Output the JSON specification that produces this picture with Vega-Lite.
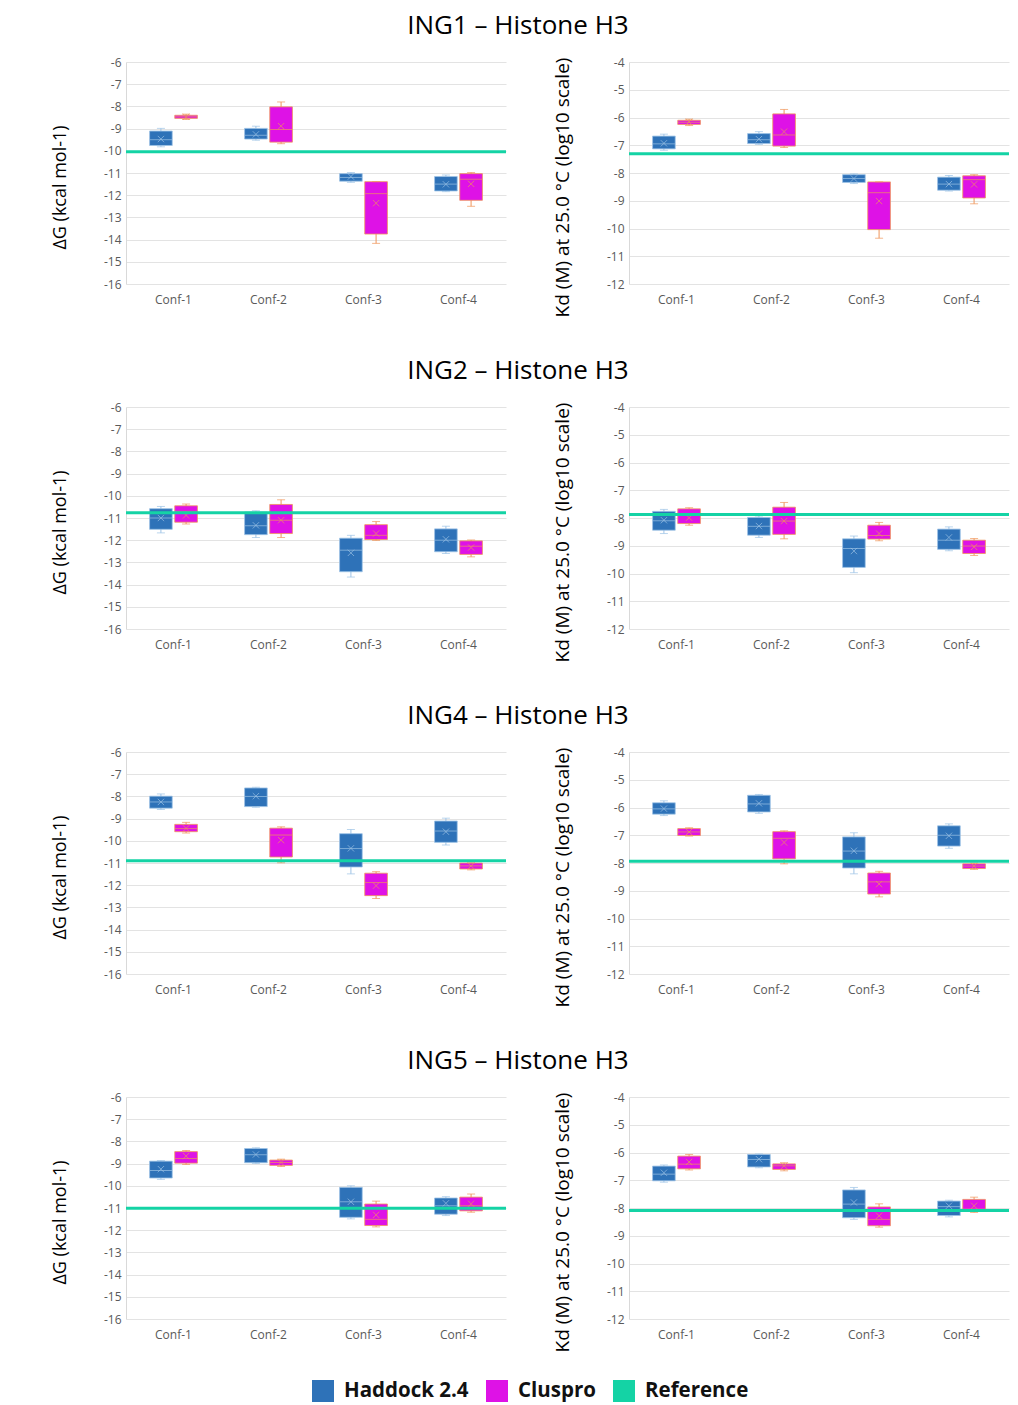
{
  "$schema": "https://vega.github.io/schema/vega-lite/v6.json",
  "padding": {"left": 51, "top": 13, "right": 5, "bottom": 5},
  "data": {"values": [
    {"ing":"ING1","m":"dG","conf":"Conf-1","method":"Haddock 2.4","hi":-8.99,"q3":-9.11,"med":-9.5,"q1":-9.76,"lo":-9.82,"mean":-9.47},
    {"ing":"ING1","m":"dG","conf":"Conf-1","method":"Cluspro","hi":-8.35,"q3":-8.40,"med":-8.47,"q1":-8.54,"lo":-8.59,"mean":-8.47},
    {"ing":"ING1","m":"dG","conf":"Conf-2","method":"Haddock 2.4","hi":-8.89,"q3":-8.99,"med":-9.3,"q1":-9.47,"lo":-9.52,"mean":-9.26},
    {"ing":"ING1","m":"dG","conf":"Conf-2","method":"Cluspro","hi":-7.80,"q3":-8.02,"med":-9.04,"q1":-9.61,"lo":-9.68,"mean":-8.89},
    {"ing":"ING1","m":"dG","conf":"Conf-3","method":"Haddock 2.4","hi":-10.98,"q3":-11.03,"med":-11.2,"q1":-11.37,"lo":-11.42,"mean":-11.16},
    {"ing":"ING1","m":"dG","conf":"Conf-3","method":"Cluspro","hi":-11.39,"q3":-11.39,"med":-11.93,"q1":-13.75,"lo":-14.17,"mean":-12.36},
    {"ing":"ING1","m":"dG","conf":"Conf-4","method":"Haddock 2.4","hi":-11.09,"q3":-11.16,"med":-11.5,"q1":-11.81,"lo":-11.84,"mean":-11.51},
    {"ing":"ING1","m":"dG","conf":"Conf-4","method":"Cluspro","hi":-10.98,"q3":-11.03,"med":-11.28,"q1":-12.23,"lo":-12.50,"mean":-11.49},
    {"ing":"ING1","m":"dG","method":"Reference","ref":-10.04},
    {"ing":"ING1","m":"Kd","conf":"Conf-1","method":"Haddock 2.4","hi":-6.60,"q3":-6.67,"med":-6.95,"q1":-7.13,"lo":-7.18,"mean":-6.93},
    {"ing":"ING1","m":"Kd","conf":"Conf-1","method":"Cluspro","hi":-6.06,"q3":-6.10,"med":-6.17,"q1":-6.25,"lo":-6.29,"mean":-6.16},
    {"ing":"ING1","m":"Kd","conf":"Conf-2","method":"Haddock 2.4","hi":-6.51,"q3":-6.58,"med":-6.8,"q1":-6.94,"lo":-6.97,"mean":-6.78},
    {"ing":"ING1","m":"Kd","conf":"Conf-2","method":"Cluspro","hi":-5.71,"q3":-5.87,"med":-6.63,"q1":-7.03,"lo":-7.08,"mean":-6.51},
    {"ing":"ING1","m":"Kd","conf":"Conf-3","method":"Haddock 2.4","hi":-8.03,"q3":-8.06,"med":-8.2,"q1":-8.34,"lo":-8.38,"mean":-8.2},
    {"ing":"ING1","m":"Kd","conf":"Conf-3","method":"Cluspro","hi":-8.32,"q3":-8.32,"med":-8.71,"q1":-10.04,"lo":-10.35,"mean":-9.01},
    {"ing":"ING1","m":"Kd","conf":"Conf-4","method":"Haddock 2.4","hi":-8.09,"q3":-8.15,"med":-8.4,"q1":-8.62,"lo":-8.65,"mean":-8.40},
    {"ing":"ING1","m":"Kd","conf":"Conf-4","method":"Cluspro","hi":-8.06,"q3":-8.10,"med":-8.24,"q1":-8.90,"lo":-9.11,"mean":-8.41},
    {"ing":"ING1","m":"Kd","method":"Reference","ref":-7.31},
    {"ing":"ING2","m":"dG","conf":"Conf-1","method":"Haddock 2.4","hi":-10.48,"q3":-10.58,"med":-11.0,"q1":-11.51,"lo":-11.67,"mean":-11.0},
    {"ing":"ING2","m":"dG","conf":"Conf-1","method":"Cluspro","hi":-10.37,"q3":-10.45,"med":-10.70,"q1":-11.19,"lo":-11.27,"mean":-10.88},
    {"ing":"ING2","m":"dG","conf":"Conf-2","method":"Haddock 2.4","hi":-10.67,"q3":-10.73,"med":-11.35,"q1":-11.75,"lo":-11.88,"mean":-11.33},
    {"ing":"ING2","m":"dG","conf":"Conf-2","method":"Cluspro","hi":-10.18,"q3":-10.39,"med":-11.10,"q1":-11.70,"lo":-11.88,"mean":-11.1},
    {"ing":"ING2","m":"dG","conf":"Conf-3","method":"Haddock 2.4","hi":-11.78,"q3":-11.91,"med":-12.45,"q1":-13.42,"lo":-13.66,"mean":-12.57},
    {"ing":"ING2","m":"dG","conf":"Conf-3","method":"Cluspro","hi":-11.16,"q3":-11.30,"med":-11.78,"q1":-11.97,"lo":-12.01,"mean":-11.70},
    {"ing":"ING2","m":"dG","conf":"Conf-4","method":"Haddock 2.4","hi":-11.37,"q3":-11.49,"med":-12.0,"q1":-12.52,"lo":-12.60,"mean":-11.96},
    {"ing":"ING2","m":"dG","conf":"Conf-4","method":"Cluspro","hi":-11.99,"q3":-12.03,"med":-12.27,"q1":-12.64,"lo":-12.75,"mean":-12.33},
    {"ing":"ING2","m":"dG","method":"Reference","ref":-10.76},
    {"ing":"ING2","m":"Kd","conf":"Conf-1","method":"Haddock 2.4","hi":-7.69,"q3":-7.76,"med":-8.1,"q1":-8.44,"lo":-8.56,"mean":-8.08},
    {"ing":"ING2","m":"Kd","conf":"Conf-1","method":"Cluspro","hi":-7.63,"q3":-7.67,"med":-7.84,"q1":-8.20,"lo":-8.26,"mean":-7.99},
    {"ing":"ING2","m":"Kd","conf":"Conf-2","method":"Haddock 2.4","hi":-7.93,"q3":-7.98,"med":-8.3,"q1":-8.62,"lo":-8.70,"mean":-8.29},
    {"ing":"ING2","m":"Kd","conf":"Conf-2","method":"Cluspro","hi":-7.44,"q3":-7.61,"med":-8.11,"q1":-8.59,"lo":-8.75,"mean":-8.11},
    {"ing":"ING2","m":"Kd","conf":"Conf-3","method":"Haddock 2.4","hi":-8.65,"q3":-8.75,"med":-9.1,"q1":-9.78,"lo":-9.97,"mean":-9.19},
    {"ing":"ING2","m":"Kd","conf":"Conf-3","method":"Cluspro","hi":-8.16,"q3":-8.26,"med":-8.63,"q1":-8.76,"lo":-8.82,"mean":-8.56},
    {"ing":"ING2","m":"Kd","conf":"Conf-4","method":"Haddock 2.4","hi":-8.32,"q3":-8.40,"med":-8.8,"q1":-9.13,"lo":-9.18,"mean":-8.70},
    {"ing":"ING2","m":"Kd","conf":"Conf-4","method":"Cluspro","hi":-8.74,"q3":-8.80,"med":-9.01,"q1":-9.28,"lo":-9.35,"mean":-9.04},
    {"ing":"ING2","m":"Kd","method":"Reference","ref":-7.87},
    {"ing":"ING4","m":"dG","conf":"Conf-1","method":"Haddock 2.4","hi":-7.89,"q3":-7.99,"med":-8.25,"q1":-8.53,"lo":-8.59,"mean":-8.25},
    {"ing":"ING4","m":"dG","conf":"Conf-1","method":"Cluspro","hi":-9.17,"q3":-9.26,"med":-9.45,"q1":-9.59,"lo":-9.65,"mean":-9.44},
    {"ing":"ING4","m":"dG","conf":"Conf-2","method":"Haddock 2.4","hi":-7.59,"q3":-7.62,"med":-8.0,"q1":-8.46,"lo":-8.49,"mean":-7.99},
    {"ing":"ING4","m":"dG","conf":"Conf-2","method":"Cluspro","hi":-9.37,"q3":-9.43,"med":-9.74,"q1":-10.73,"lo":-10.99,"mean":-9.97},
    {"ing":"ING4","m":"dG","conf":"Conf-3","method":"Haddock 2.4","hi":-9.49,"q3":-9.68,"med":-10.35,"q1":-11.18,"lo":-11.49,"mean":-10.34},
    {"ing":"ING4","m":"dG","conf":"Conf-3","method":"Cluspro","hi":-11.39,"q3":-11.46,"med":-11.88,"q1":-12.47,"lo":-12.60,"mean":-12.02},
    {"ing":"ING4","m":"dG","conf":"Conf-4","method":"Haddock 2.4","hi":-8.98,"q3":-9.11,"med":-9.56,"q1":-10.07,"lo":-10.19,"mean":-9.59},
    {"ing":"ING4","m":"dG","conf":"Conf-4","method":"Cluspro","hi":-10.99,"q3":-11.0,"med":-11.13,"q1":-11.27,"lo":-11.31,"mean":-11.13},
    {"ing":"ING4","m":"dG","method":"Reference","ref":-10.90},
    {"ing":"ING4","m":"Kd","conf":"Conf-1","method":"Haddock 2.4","hi":-5.76,"q3":-5.83,"med":-6.05,"q1":-6.24,"lo":-6.29,"mean":-6.04},
    {"ing":"ING4","m":"Kd","conf":"Conf-1","method":"Cluspro","hi":-6.73,"q3":-6.76,"med":-6.88,"q1":-7.01,"lo":-7.03,"mean":-6.88},
    {"ing":"ING4","m":"Kd","conf":"Conf-2","method":"Haddock 2.4","hi":-5.53,"q3":-5.56,"med":-5.87,"q1":-6.16,"lo":-6.21,"mean":-5.85},
    {"ing":"ING4","m":"Kd","conf":"Conf-2","method":"Cluspro","hi":-6.84,"q3":-6.87,"med":-7.11,"q1":-7.85,"lo":-8.03,"mean":-7.26},
    {"ing":"ING4","m":"Kd","conf":"Conf-3","method":"Haddock 2.4","hi":-6.91,"q3":-7.06,"med":-7.57,"q1":-8.18,"lo":-8.39,"mean":-7.56},
    {"ing":"ING4","m":"Kd","conf":"Conf-3","method":"Cluspro","hi":-8.30,"q3":-8.36,"med":-8.68,"q1":-9.12,"lo":-9.22,"mean":-8.76},
    {"ing":"ING4","m":"Kd","conf":"Conf-4","method":"Haddock 2.4","hi":-6.59,"q3":-6.66,"med":-7.0,"q1":-7.39,"lo":-7.47,"mean":-7.02},
    {"ing":"ING4","m":"Kd","conf":"Conf-4","method":"Cluspro","hi":-8.00,"q3":-8.03,"med":-8.11,"q1":-8.20,"lo":-8.23,"mean":-8.11},
    {"ing":"ING4","m":"Kd","method":"Reference","ref":-7.94},
    {"ing":"ING5","m":"dG","conf":"Conf-1","method":"Haddock 2.4","hi":-8.86,"q3":-8.89,"med":-9.31,"q1":-9.65,"lo":-9.71,"mean":-9.25},
    {"ing":"ING5","m":"dG","conf":"Conf-1","method":"Cluspro","hi":-8.41,"q3":-8.46,"med":-8.77,"q1":-8.98,"lo":-9.04,"mean":-8.66},
    {"ing":"ING5","m":"dG","conf":"Conf-2","method":"Haddock 2.4","hi":-8.29,"q3":-8.32,"med":-8.6,"q1":-8.96,"lo":-8.99,"mean":-8.59},
    {"ing":"ING5","m":"dG","conf":"Conf-2","method":"Cluspro","hi":-8.80,"q3":-8.84,"med":-8.95,"q1":-9.08,"lo":-9.13,"mean":-8.95},
    {"ing":"ING5","m":"dG","conf":"Conf-3","method":"Haddock 2.4","hi":-10.0,"q3":-10.07,"med":-10.72,"q1":-11.42,"lo":-11.49,"mean":-10.72},
    {"ing":"ING5","m":"dG","conf":"Conf-3","method":"Cluspro","hi":-10.69,"q3":-10.82,"med":-11.51,"q1":-11.79,"lo":-11.85,"mean":-11.31},
    {"ing":"ING5","m":"dG","conf":"Conf-4","method":"Haddock 2.4","hi":-10.49,"q3":-10.55,"med":-10.9,"q1":-11.28,"lo":-11.34,"mean":-10.79},
    {"ing":"ING5","m":"dG","conf":"Conf-4","method":"Cluspro","hi":-10.37,"q3":-10.51,"med":-10.9,"q1":-11.13,"lo":-11.19,"mean":-10.81},
    {"ing":"ING5","m":"dG","method":"Reference","ref":-11.01},
    {"ing":"ING5","m":"Kd","conf":"Conf-1","method":"Haddock 2.4","hi":-6.45,"q3":-6.49,"med":-6.78,"q1":-7.02,"lo":-7.07,"mean":-6.73},
    {"ing":"ING5","m":"Kd","conf":"Conf-1","method":"Cluspro","hi":-6.07,"q3":-6.13,"med":-6.42,"q1":-6.59,"lo":-6.63,"mean":-6.34},
    {"ing":"ING5","m":"Kd","conf":"Conf-2","method":"Haddock 2.4","hi":-6.05,"q3":-6.07,"med":-6.25,"q1":-6.52,"lo":-6.55,"mean":-6.24},
    {"ing":"ING5","m":"Kd","conf":"Conf-2","method":"Cluspro","hi":-6.37,"q3":-6.41,"med":-6.48,"q1":-6.61,"lo":-6.66,"mean":-6.48},
    {"ing":"ING5","m":"Kd","conf":"Conf-3","method":"Haddock 2.4","hi":-7.26,"q3":-7.35,"med":-7.86,"q1":-8.35,"lo":-8.41,"mean":-7.80},
    {"ing":"ING5","m":"Kd","conf":"Conf-3","method":"Cluspro","hi":-7.85,"q3":-7.96,"med":-8.41,"q1":-8.64,"lo":-8.69,"mean":-8.28},
    {"ing":"ING5","m":"Kd","conf":"Conf-4","method":"Haddock 2.4","hi":-7.72,"q3":-7.75,"med":-7.95,"q1":-8.27,"lo":-8.32,"mean":-7.92},
    {"ing":"ING5","m":"Kd","conf":"Conf-4","method":"Cluspro","hi":-7.61,"q3":-7.69,"med":-8.04,"q1":-8.12,"lo":-8.16,"mean":-7.92},
    {"ing":"ING5","m":"Kd","method":"Reference","ref":-8.09}
  ]},
  "spacing": 41,
  "vconcat": [
    {"title": {"text": "ING1 – Histone H3"}, "spacing": 45, "hconcat": [
      {"width": 380, "height": 222, "transform": [{"filter": "datum.ing === 'ING1' && datum.m === 'dG'"}], "layer": [
        {"transform": [{"filter": "datum.method !== 'Reference'"}],
         "encoding": {"x": {"field": "conf", "type": "nominal", "title": null, "scale": {"domain": ["Conf-1","Conf-2","Conf-3","Conf-4"], "paddingInner": 0.47, "paddingOuter": 0.235}},
                      "xOffset": {"field": "method", "type": "nominal", "scale": {"domain": ["Haddock 2.4","Cluspro"], "paddingInner": 0.1, "paddingOuter": 0.05}}},
         "layer": [
          {"mark": {"type": "rule", "strokeWidth": 1}, "encoding": {"y": {"field": "lo", "type": "quantitative", "title": "ΔG (kcal mol-1)", "scale": {"domain": [-16, -6], "nice": false, "zero": false}, "axis": {"values": [-16,-15,-14,-13,-12,-11,-10,-9,-8,-7,-6], "titleFontSize": 18}}, "y2": {"field": "hi"}, "stroke": {"field": "method", "type": "nominal", "scale": {"domain": ["Haddock 2.4","Cluspro"], "range": ["#9DC3E6","#F0955A"]}, "legend": null}}},
          {"mark": {"type": "bar", "strokeWidth": 0.8}, "encoding": {"y": {"field": "q1", "type": "quantitative"}, "y2": {"field": "q3"}, "color": {"field": "method", "type": "nominal", "scale": {"domain": ["Haddock 2.4","Cluspro","Reference"], "range": ["#2E72B8","#DE12E6","#14D3A5"]}, "legend": {"orient": "none", "legendX": 186, "legendY": 1318, "direction": "horizontal", "title": null}}, "stroke": {"field": "method", "type": "nominal", "legend": null}}},
          {"mark": {"type": "tick", "size": 8, "thickness": 1}, "encoding": {"y": {"field": "lo", "type": "quantitative"}, "fill": {"field": "method", "type": "nominal", "scale": {"domain": ["Haddock 2.4","Cluspro"], "range": ["#9DC3E6","#F0955A"]}, "legend": null}}},
          {"mark": {"type": "tick", "size": 8, "thickness": 1}, "encoding": {"y": {"field": "hi", "type": "quantitative"}, "fill": {"field": "method", "type": "nominal", "legend": null}}},
          {"mark": {"type": "tick", "size": 22, "thickness": 1}, "encoding": {"y": {"field": "med", "type": "quantitative"}, "fill": {"field": "method", "type": "nominal", "legend": null}}},
          {"mark": {"type": "point", "shape": "M-1,-1L1,1M-1,1L1,-1", "filled": false, "size": 40, "strokeWidth": 1}, "encoding": {"y": {"field": "mean", "type": "quantitative"}, "stroke": {"field": "method", "type": "nominal", "legend": null}}}
         ]},
        {"transform": [{"filter": "datum.method === 'Reference'"}], "mark": {"type": "rule", "strokeWidth": 3, "color": "#14D3A5"}, "encoding": {"y": {"field": "ref", "type": "quantitative", "axis": {"values": [-16,-15,-14,-13,-12,-11,-10,-9,-8,-7,-6]}}}}
      ]},
      {"width": 380, "height": 222, "transform": [{"filter": "datum.ing === 'ING1' && datum.m === 'Kd'"}], "layer": [
        {"transform": [{"filter": "datum.method !== 'Reference'"}],
         "encoding": {"x": {"field": "conf", "type": "nominal", "title": null, "scale": {"domain": ["Conf-1","Conf-2","Conf-3","Conf-4"], "paddingInner": 0.47, "paddingOuter": 0.235}},
                      "xOffset": {"field": "method", "type": "nominal", "scale": {"domain": ["Haddock 2.4","Cluspro"], "paddingInner": 0.1, "paddingOuter": 0.05}}},
         "layer": [
          {"mark": {"type": "rule", "strokeWidth": 1}, "encoding": {"y": {"field": "lo", "type": "quantitative", "title": "Kd (M) at 25.0 °C (log10 scale)", "scale": {"domain": [-12, -4], "nice": false, "zero": false}, "axis": {"values": [-12,-11,-10,-9,-8,-7,-6,-5,-4], "titleFontSize": 19}}, "y2": {"field": "hi"}, "stroke": {"field": "method", "type": "nominal", "legend": null}}},
          {"mark": {"type": "bar", "strokeWidth": 0.8}, "encoding": {"y": {"field": "q1", "type": "quantitative"}, "y2": {"field": "q3"}, "color": {"field": "method", "type": "nominal", "legend": {"orient": "none", "legendX": 186, "legendY": 1318, "direction": "horizontal", "title": null}}, "stroke": {"field": "method", "type": "nominal", "legend": null}}},
          {"mark": {"type": "tick", "size": 8, "thickness": 1}, "encoding": {"y": {"field": "lo", "type": "quantitative"}, "fill": {"field": "method", "type": "nominal", "legend": null}}},
          {"mark": {"type": "tick", "size": 8, "thickness": 1}, "encoding": {"y": {"field": "hi", "type": "quantitative"}, "fill": {"field": "method", "type": "nominal", "legend": null}}},
          {"mark": {"type": "tick", "size": 22, "thickness": 1}, "encoding": {"y": {"field": "med", "type": "quantitative"}, "fill": {"field": "method", "type": "nominal", "legend": null}}},
          {"mark": {"type": "point", "shape": "M-1,-1L1,1M-1,1L1,-1", "filled": false, "size": 40, "strokeWidth": 1}, "encoding": {"y": {"field": "mean", "type": "quantitative"}, "stroke": {"field": "method", "type": "nominal", "legend": null}}}
         ]},
        {"transform": [{"filter": "datum.method === 'Reference'"}], "mark": {"type": "rule", "strokeWidth": 3, "color": "#14D3A5"}, "encoding": {"y": {"field": "ref", "type": "quantitative", "axis": {"values": [-12,-11,-10,-9,-8,-7,-6,-5,-4]}}}}
      ]}
    ]},
    {"title": {"text": "ING2 – Histone H3"}, "spacing": 45, "hconcat": [
      {"width": 380, "height": 222, "transform": [{"filter": "datum.ing === 'ING2' && datum.m === 'dG'"}], "layer": [
        {"transform": [{"filter": "datum.method !== 'Reference'"}],
         "encoding": {"x": {"field": "conf", "type": "nominal", "title": null, "scale": {"domain": ["Conf-1","Conf-2","Conf-3","Conf-4"], "paddingInner": 0.47, "paddingOuter": 0.235}},
                      "xOffset": {"field": "method", "type": "nominal", "scale": {"domain": ["Haddock 2.4","Cluspro"], "paddingInner": 0.1, "paddingOuter": 0.05}}},
         "layer": [
          {"mark": {"type": "rule", "strokeWidth": 1}, "encoding": {"y": {"field": "lo", "type": "quantitative", "title": "ΔG (kcal mol-1)", "scale": {"domain": [-16, -6], "nice": false, "zero": false}, "axis": {"values": [-16,-15,-14,-13,-12,-11,-10,-9,-8,-7,-6], "titleFontSize": 18}}, "y2": {"field": "hi"}, "stroke": {"field": "method", "type": "nominal", "legend": null}}},
          {"mark": {"type": "bar", "strokeWidth": 0.8}, "encoding": {"y": {"field": "q1", "type": "quantitative"}, "y2": {"field": "q3"}, "color": {"field": "method", "type": "nominal", "legend": {"orient": "none", "legendX": 186, "legendY": 1318, "direction": "horizontal", "title": null}}, "stroke": {"field": "method", "type": "nominal", "legend": null}}},
          {"mark": {"type": "tick", "size": 8, "thickness": 1}, "encoding": {"y": {"field": "lo", "type": "quantitative"}, "fill": {"field": "method", "type": "nominal", "legend": null}}},
          {"mark": {"type": "tick", "size": 8, "thickness": 1}, "encoding": {"y": {"field": "hi", "type": "quantitative"}, "fill": {"field": "method", "type": "nominal", "legend": null}}},
          {"mark": {"type": "tick", "size": 22, "thickness": 1}, "encoding": {"y": {"field": "med", "type": "quantitative"}, "fill": {"field": "method", "type": "nominal", "legend": null}}},
          {"mark": {"type": "point", "shape": "M-1,-1L1,1M-1,1L1,-1", "filled": false, "size": 40, "strokeWidth": 1}, "encoding": {"y": {"field": "mean", "type": "quantitative"}, "stroke": {"field": "method", "type": "nominal", "legend": null}}}
         ]},
        {"transform": [{"filter": "datum.method === 'Reference'"}], "mark": {"type": "rule", "strokeWidth": 3, "color": "#14D3A5"}, "encoding": {"y": {"field": "ref", "type": "quantitative", "axis": {"values": [-16,-15,-14,-13,-12,-11,-10,-9,-8,-7,-6]}}}}
      ]},
      {"width": 380, "height": 222, "transform": [{"filter": "datum.ing === 'ING2' && datum.m === 'Kd'"}], "layer": [
        {"transform": [{"filter": "datum.method !== 'Reference'"}],
         "encoding": {"x": {"field": "conf", "type": "nominal", "title": null, "scale": {"domain": ["Conf-1","Conf-2","Conf-3","Conf-4"], "paddingInner": 0.47, "paddingOuter": 0.235}},
                      "xOffset": {"field": "method", "type": "nominal", "scale": {"domain": ["Haddock 2.4","Cluspro"], "paddingInner": 0.1, "paddingOuter": 0.05}}},
         "layer": [
          {"mark": {"type": "rule", "strokeWidth": 1}, "encoding": {"y": {"field": "lo", "type": "quantitative", "title": "Kd (M) at 25.0 °C (log10 scale)", "scale": {"domain": [-12, -4], "nice": false, "zero": false}, "axis": {"values": [-12,-11,-10,-9,-8,-7,-6,-5,-4], "titleFontSize": 19}}, "y2": {"field": "hi"}, "stroke": {"field": "method", "type": "nominal", "legend": null}}},
          {"mark": {"type": "bar", "strokeWidth": 0.8}, "encoding": {"y": {"field": "q1", "type": "quantitative"}, "y2": {"field": "q3"}, "color": {"field": "method", "type": "nominal", "legend": {"orient": "none", "legendX": 186, "legendY": 1318, "direction": "horizontal", "title": null}}, "stroke": {"field": "method", "type": "nominal", "legend": null}}},
          {"mark": {"type": "tick", "size": 8, "thickness": 1}, "encoding": {"y": {"field": "lo", "type": "quantitative"}, "fill": {"field": "method", "type": "nominal", "legend": null}}},
          {"mark": {"type": "tick", "size": 8, "thickness": 1}, "encoding": {"y": {"field": "hi", "type": "quantitative"}, "fill": {"field": "method", "type": "nominal", "legend": null}}},
          {"mark": {"type": "tick", "size": 22, "thickness": 1}, "encoding": {"y": {"field": "med", "type": "quantitative"}, "fill": {"field": "method", "type": "nominal", "legend": null}}},
          {"mark": {"type": "point", "shape": "M-1,-1L1,1M-1,1L1,-1", "filled": false, "size": 40, "strokeWidth": 1}, "encoding": {"y": {"field": "mean", "type": "quantitative"}, "stroke": {"field": "method", "type": "nominal", "legend": null}}}
         ]},
        {"transform": [{"filter": "datum.method === 'Reference'"}], "mark": {"type": "rule", "strokeWidth": 3, "color": "#14D3A5"}, "encoding": {"y": {"field": "ref", "type": "quantitative", "axis": {"values": [-12,-11,-10,-9,-8,-7,-6,-5,-4]}}}}
      ]}
    ]},
    {"title": {"text": "ING4 – Histone H3"}, "spacing": 45, "hconcat": [
      {"width": 380, "height": 222, "transform": [{"filter": "datum.ing === 'ING4' && datum.m === 'dG'"}], "layer": [
        {"transform": [{"filter": "datum.method !== 'Reference'"}],
         "encoding": {"x": {"field": "conf", "type": "nominal", "title": null, "scale": {"domain": ["Conf-1","Conf-2","Conf-3","Conf-4"], "paddingInner": 0.47, "paddingOuter": 0.235}},
                      "xOffset": {"field": "method", "type": "nominal", "scale": {"domain": ["Haddock 2.4","Cluspro"], "paddingInner": 0.1, "paddingOuter": 0.05}}},
         "layer": [
          {"mark": {"type": "rule", "strokeWidth": 1}, "encoding": {"y": {"field": "lo", "type": "quantitative", "title": "ΔG (kcal mol-1)", "scale": {"domain": [-16, -6], "nice": false, "zero": false}, "axis": {"values": [-16,-15,-14,-13,-12,-11,-10,-9,-8,-7,-6], "titleFontSize": 18}}, "y2": {"field": "hi"}, "stroke": {"field": "method", "type": "nominal", "legend": null}}},
          {"mark": {"type": "bar", "strokeWidth": 0.8}, "encoding": {"y": {"field": "q1", "type": "quantitative"}, "y2": {"field": "q3"}, "color": {"field": "method", "type": "nominal", "legend": {"orient": "none", "legendX": 186, "legendY": 1318, "direction": "horizontal", "title": null}}, "stroke": {"field": "method", "type": "nominal", "legend": null}}},
          {"mark": {"type": "tick", "size": 8, "thickness": 1}, "encoding": {"y": {"field": "lo", "type": "quantitative"}, "fill": {"field": "method", "type": "nominal", "legend": null}}},
          {"mark": {"type": "tick", "size": 8, "thickness": 1}, "encoding": {"y": {"field": "hi", "type": "quantitative"}, "fill": {"field": "method", "type": "nominal", "legend": null}}},
          {"mark": {"type": "tick", "size": 22, "thickness": 1}, "encoding": {"y": {"field": "med", "type": "quantitative"}, "fill": {"field": "method", "type": "nominal", "legend": null}}},
          {"mark": {"type": "point", "shape": "M-1,-1L1,1M-1,1L1,-1", "filled": false, "size": 40, "strokeWidth": 1}, "encoding": {"y": {"field": "mean", "type": "quantitative"}, "stroke": {"field": "method", "type": "nominal", "legend": null}}}
         ]},
        {"transform": [{"filter": "datum.method === 'Reference'"}], "mark": {"type": "rule", "strokeWidth": 3, "color": "#14D3A5"}, "encoding": {"y": {"field": "ref", "type": "quantitative", "axis": {"values": [-16,-15,-14,-13,-12,-11,-10,-9,-8,-7,-6]}}}}
      ]},
      {"width": 380, "height": 222, "transform": [{"filter": "datum.ing === 'ING4' && datum.m === 'Kd'"}], "layer": [
        {"transform": [{"filter": "datum.method !== 'Reference'"}],
         "encoding": {"x": {"field": "conf", "type": "nominal", "title": null, "scale": {"domain": ["Conf-1","Conf-2","Conf-3","Conf-4"], "paddingInner": 0.47, "paddingOuter": 0.235}},
                      "xOffset": {"field": "method", "type": "nominal", "scale": {"domain": ["Haddock 2.4","Cluspro"], "paddingInner": 0.1, "paddingOuter": 0.05}}},
         "layer": [
          {"mark": {"type": "rule", "strokeWidth": 1}, "encoding": {"y": {"field": "lo", "type": "quantitative", "title": "Kd (M) at 25.0 °C (log10 scale)", "scale": {"domain": [-12, -4], "nice": false, "zero": false}, "axis": {"values": [-12,-11,-10,-9,-8,-7,-6,-5,-4], "titleFontSize": 19}}, "y2": {"field": "hi"}, "stroke": {"field": "method", "type": "nominal", "legend": null}}},
          {"mark": {"type": "bar", "strokeWidth": 0.8}, "encoding": {"y": {"field": "q1", "type": "quantitative"}, "y2": {"field": "q3"}, "color": {"field": "method", "type": "nominal", "legend": {"orient": "none", "legendX": 186, "legendY": 1318, "direction": "horizontal", "title": null}}, "stroke": {"field": "method", "type": "nominal", "legend": null}}},
          {"mark": {"type": "tick", "size": 8, "thickness": 1}, "encoding": {"y": {"field": "lo", "type": "quantitative"}, "fill": {"field": "method", "type": "nominal", "legend": null}}},
          {"mark": {"type": "tick", "size": 8, "thickness": 1}, "encoding": {"y": {"field": "hi", "type": "quantitative"}, "fill": {"field": "method", "type": "nominal", "legend": null}}},
          {"mark": {"type": "tick", "size": 22, "thickness": 1}, "encoding": {"y": {"field": "med", "type": "quantitative"}, "fill": {"field": "method", "type": "nominal", "legend": null}}},
          {"mark": {"type": "point", "shape": "M-1,-1L1,1M-1,1L1,-1", "filled": false, "size": 40, "strokeWidth": 1}, "encoding": {"y": {"field": "mean", "type": "quantitative"}, "stroke": {"field": "method", "type": "nominal", "legend": null}}}
         ]},
        {"transform": [{"filter": "datum.method === 'Reference'"}], "mark": {"type": "rule", "strokeWidth": 3, "color": "#14D3A5"}, "encoding": {"y": {"field": "ref", "type": "quantitative", "axis": {"values": [-12,-11,-10,-9,-8,-7,-6,-5,-4]}}}}
      ]}
    ]},
    {"title": {"text": "ING5 – Histone H3"}, "spacing": 45, "hconcat": [
      {"width": 380, "height": 222, "transform": [{"filter": "datum.ing === 'ING5' && datum.m === 'dG'"}], "layer": [
        {"transform": [{"filter": "datum.method !== 'Reference'"}],
         "encoding": {"x": {"field": "conf", "type": "nominal", "title": null, "scale": {"domain": ["Conf-1","Conf-2","Conf-3","Conf-4"], "paddingInner": 0.47, "paddingOuter": 0.235}},
                      "xOffset": {"field": "method", "type": "nominal", "scale": {"domain": ["Haddock 2.4","Cluspro"], "paddingInner": 0.1, "paddingOuter": 0.05}}},
         "layer": [
          {"mark": {"type": "rule", "strokeWidth": 1}, "encoding": {"y": {"field": "lo", "type": "quantitative", "title": "ΔG (kcal mol-1)", "scale": {"domain": [-16, -6], "nice": false, "zero": false}, "axis": {"values": [-16,-15,-14,-13,-12,-11,-10,-9,-8,-7,-6], "titleFontSize": 18}}, "y2": {"field": "hi"}, "stroke": {"field": "method", "type": "nominal", "legend": null}}},
          {"mark": {"type": "bar", "strokeWidth": 0.8}, "encoding": {"y": {"field": "q1", "type": "quantitative"}, "y2": {"field": "q3"}, "color": {"field": "method", "type": "nominal", "legend": {"orient": "none", "legendX": 186, "legendY": 1318, "direction": "horizontal", "title": null}}, "stroke": {"field": "method", "type": "nominal", "legend": null}}},
          {"mark": {"type": "tick", "size": 8, "thickness": 1}, "encoding": {"y": {"field": "lo", "type": "quantitative"}, "fill": {"field": "method", "type": "nominal", "legend": null}}},
          {"mark": {"type": "tick", "size": 8, "thickness": 1}, "encoding": {"y": {"field": "hi", "type": "quantitative"}, "fill": {"field": "method", "type": "nominal", "legend": null}}},
          {"mark": {"type": "tick", "size": 22, "thickness": 1}, "encoding": {"y": {"field": "med", "type": "quantitative"}, "fill": {"field": "method", "type": "nominal", "legend": null}}},
          {"mark": {"type": "point", "shape": "M-1,-1L1,1M-1,1L1,-1", "filled": false, "size": 40, "strokeWidth": 1}, "encoding": {"y": {"field": "mean", "type": "quantitative"}, "stroke": {"field": "method", "type": "nominal", "legend": null}}}
         ]},
        {"transform": [{"filter": "datum.method === 'Reference'"}], "mark": {"type": "rule", "strokeWidth": 3, "color": "#14D3A5"}, "encoding": {"y": {"field": "ref", "type": "quantitative", "axis": {"values": [-16,-15,-14,-13,-12,-11,-10,-9,-8,-7,-6]}}}}
      ]},
      {"width": 380, "height": 222, "transform": [{"filter": "datum.ing === 'ING5' && datum.m === 'Kd'"}], "layer": [
        {"transform": [{"filter": "datum.method !== 'Reference'"}],
         "encoding": {"x": {"field": "conf", "type": "nominal", "title": null, "scale": {"domain": ["Conf-1","Conf-2","Conf-3","Conf-4"], "paddingInner": 0.47, "paddingOuter": 0.235}},
                      "xOffset": {"field": "method", "type": "nominal", "scale": {"domain": ["Haddock 2.4","Cluspro"], "paddingInner": 0.1, "paddingOuter": 0.05}}},
         "layer": [
          {"mark": {"type": "rule", "strokeWidth": 1}, "encoding": {"y": {"field": "lo", "type": "quantitative", "title": "Kd (M) at 25.0 °C (log10 scale)", "scale": {"domain": [-12, -4], "nice": false, "zero": false}, "axis": {"values": [-12,-11,-10,-9,-8,-7,-6,-5,-4], "titleFontSize": 19}}, "y2": {"field": "hi"}, "stroke": {"field": "method", "type": "nominal", "legend": null}}},
          {"mark": {"type": "bar", "strokeWidth": 0.8}, "encoding": {"y": {"field": "q1", "type": "quantitative"}, "y2": {"field": "q3"}, "color": {"field": "method", "type": "nominal", "legend": {"orient": "none", "legendX": 186, "legendY": 1318, "direction": "horizontal", "title": null}}, "stroke": {"field": "method", "type": "nominal", "legend": null}}},
          {"mark": {"type": "tick", "size": 8, "thickness": 1}, "encoding": {"y": {"field": "lo", "type": "quantitative"}, "fill": {"field": "method", "type": "nominal", "legend": null}}},
          {"mark": {"type": "tick", "size": 8, "thickness": 1}, "encoding": {"y": {"field": "hi", "type": "quantitative"}, "fill": {"field": "method", "type": "nominal", "legend": null}}},
          {"mark": {"type": "tick", "size": 22, "thickness": 1}, "encoding": {"y": {"field": "med", "type": "quantitative"}, "fill": {"field": "method", "type": "nominal", "legend": null}}},
          {"mark": {"type": "point", "shape": "M-1,-1L1,1M-1,1L1,-1", "filled": false, "size": 40, "strokeWidth": 1}, "encoding": {"y": {"field": "mean", "type": "quantitative"}, "stroke": {"field": "method", "type": "nominal", "legend": null}}}
         ]},
        {"transform": [{"filter": "datum.method === 'Reference'"}], "mark": {"type": "rule", "strokeWidth": 3, "color": "#14D3A5"}, "encoding": {"y": {"field": "ref", "type": "quantitative", "axis": {"values": [-12,-11,-10,-9,-8,-7,-6,-5,-4]}}}}
      ]}
    ]}
  ],
  "config": {
    "font": "Open Sans",
    "view": {"stroke": null},
    "axis": {"labelFont": "Open Sans", "labelFontSize": 12, "labelColor": "#595959", "ticks": false, "titleFont": "Open Sans", "titleFontWeight": "normal", "titleFontSize": 16, "titleColor": "#000000"},
    "axisY": {"domainColor": "#d9d9d9", "gridColor": "#e3e3e3", "labelPadding": 5, "titlePadding": 34, "titleY": 125, "tickCount": 20, "labelOverlap": false, "labelExpr": "'' + datum.value"},
    "axisX": {"domain": false, "labelAngle": 0, "labelPadding": 10, "grid": false, "labelFontSize": 12},
    "title": {"font": "Open Sans", "fontSize": 26, "fontWeight": "normal", "color": "#000000", "anchor": "middle", "offset": 17, "dx": -13},
    "legend": {"symbolType": "square", "symbolSize": 484, "symbolStrokeWidth": 0, "labelFont": "Open Sans", "labelFontWeight": "bold", "labelFontSize": 20.5, "labelColor": "#111111", "columnPadding": 17, "labelOffset": 10}
  }
}
